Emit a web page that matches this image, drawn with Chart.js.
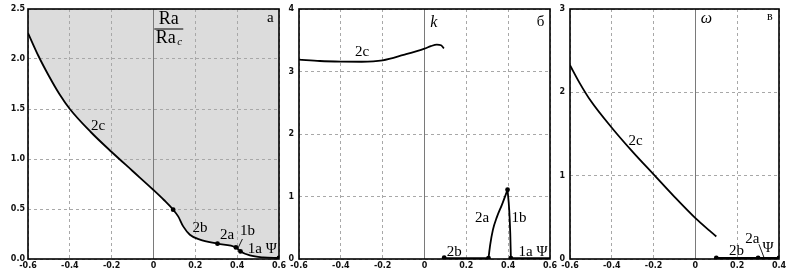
<!DOCTYPE html>
<html><head><meta charset="utf-8">
<script src="https://cdn.jsdelivr.net/npm/chart.js@4.4.1/dist/chart.umd.min.js"></script>
<style>
html,body{margin:0;padding:0;background:#fff;}
#wrap{position:relative;width:789px;height:277px;overflow:hidden;}
canvas{position:absolute;top:0;}
</style></head>
<body><div id="wrap">
<canvas id="c1" width="288" height="277" style="left:0px"></canvas>
<canvas id="c2" width="272" height="277" style="left:286px"></canvas>
<canvas id="c3" width="236" height="277" style="left:553px"></canvas>
</div>
<script>
// ---------- Panel a: Ra/Ra_c vs Psi ----------
const raTicksX = [-0.6, -0.4, -0.2, 0, 0.2, 0.4, 0.6];
const raTickLabelsX = ['-0.6', '-0.4', '-0.2', '0', '0.2', '0.4', '0.6'];
const raTicksY = [0, 0.5, 1, 1.5, 2, 2.5];
const raTickLabelsY = ['0.0', '0.5', '1.0', '1.5', '2.0', '2.5'];
const ra2cX = [-0.6, -0.55, -0.5, -0.45, -0.4, -0.3, -0.2, -0.1, 0, 0.05, 0.094];
const ra2cY = [2.26, 2.03, 1.83, 1.65, 1.50, 1.27, 1.07, 0.88, 0.69, 0.59, 0.493];
const ra2bX = [0.118, 0.142, 0.174, 0.222, 0.306, 0.394, 0.416, 0.461, 0.524, 0.6];
const ra2bY = [0.426, 0.326, 0.243, 0.193, 0.153, 0.116, 0.076, 0.036, 0.016, 0.01];
const raDotsX = [0.094, 0.306, 0.394, 0.416, 0.6];
const raDotsY = [0.493, 0.153, 0.116, 0.076, 0.01];

// ---------- Panel b: k vs Psi ----------
const kTicksX = [-0.6, -0.4, -0.2, 0, 0.2, 0.4, 0.6];
const kTickLabelsX = ['-0.6', '-0.4', '-0.2', '0', '0.2', '0.4', '0.6'];
const kTicksY = [0, 1, 2, 3, 4];
const kTickLabelsY = ['0', '1', '2', '3', '4'];
const k2cX = [-0.6, -0.5, -0.4, -0.3, -0.2, -0.1, 0, 0.03, 0.059, 0.079, 0.093];
const k2cY = [3.19, 3.168, 3.158, 3.156, 3.178, 3.265, 3.365, 3.405, 3.43, 3.42, 3.37];
const k2bX = [0.094, 0.306];
const k2bY = [0.015, 0.015];
const k2aX = [0.306, 0.314, 0.327, 0.346, 0.37, 0.397];
const k2aY = [0.015, 0.225, 0.466, 0.67, 0.867, 1.108];
const k1bX = [0.397, 0.405, 0.41, 0.413];
const k1bY = [1.108, 0.787, 0.41, 0.012];
const k1aX = [0.413, 0.6];
const k1aY = [0.012, 0.012];
const kDotsX = [0.094, 0.306, 0.397, 0.413];
const kDotsY = [0.02, 0.015, 1.108, 0.012];

// ---------- Panel v: omega vs Psi ----------
const wTicksX = [-0.6, -0.4, -0.2, 0, 0.2, 0.4];
const wTickLabelsX = ['-0.6', '-0.4', '-0.2', '0', '0.2', '0.4'];
const wTicksY = [0, 1, 2, 3];
const wTickLabelsY = ['0', '1', '2', '3'];
const w2cX = [-0.6, -0.555, -0.5, -0.4, -0.3, -0.2, -0.1, 0, 0.069, 0.1];
const w2cY = [2.325, 2.117, 1.895, 1.575, 1.285, 1.015, 0.745, 0.49, 0.337, 0.27];
const w2bX = [0.1, 0.4];
const w2bY = [0.012, 0.012];
const wDotsX = [0.1, 0.3, 0.4];
const wDotsY = [0.012, 0.012, 0.012];

// ---------- annotation texts (label, x, y in data units) ----------
const raLabels = [['2c', -0.265, 1.33], ['2b', 0.222, 0.31], ['2a', 0.352, 0.236], ['1b', 0.449, 0.28], ['1a Ψ', 0.52, 0.10]];
const kLabels = [['2c', -0.298, 3.314], ['2a', 0.275, 0.653], ['1b', 0.452, 0.653], ['2b', 0.142, 0.118], ['1a Ψ', 0.519, 0.112]];
const wLabels = [['2c', -0.286, 1.413], ['2b', 0.197, 0.10], ['2a', 0.272, 0.241], ['Ψ', 0.348, 0.129]];

const pts = (xs, ys) => xs.map((x, i) => ({x: x, y: ys[i]}));
const SERIF = '"Liberation Serif", "Times New Roman", serif';
const TICKFONT = {family: '"DejaVu Sans", sans-serif', size: 8, weight: 'bold'};

function curve(xs, ys, extra) {
  return Object.assign({
    data: pts(xs, ys), borderColor: '#000', borderWidth: 1.8, pointRadius: 0,
    cubicInterpolationMode: 'monotone', fill: false
  }, extra || {});
}
function dots(xs, ys) {
  return {data: pts(xs, ys), showLine: false, pointRadius: 2.4, pointBackgroundColor: '#000',
          pointBorderWidth: 0, borderColor: '#000', fill: false};
}

const decor = {
  id: 'decor',
  afterDraw(chart, args, opts) {
    const ctx = chart.ctx, a = chart.chartArea, sx = chart.scales.x, sy = chart.scales.y;
    const X = v => sx.getPixelForValue(v), Y = v => sy.getPixelForValue(v);
    ctx.save();
    ctx.strokeStyle = '#000'; ctx.lineWidth = 1.6; ctx.setLineDash([]);
    ctx.strokeRect(a.left, a.top, a.right - a.left, a.bottom - a.top);
    ctx.fillStyle = '#000'; ctx.textAlign = 'center'; ctx.textBaseline = 'middle';
    ctx.font = '15px ' + SERIF;
    (opts.labels || []).forEach(l => ctx.fillText(l[0], X(l[1]), Y(l[2])));
    (opts.extra || []).forEach(e => {
      ctx.font = e.font;
      ctx.fillText(e.t, X(e.x), Y(e.y));
    });
    (opts.lines || []).forEach(l => {
      ctx.lineWidth = 0.9; ctx.beginPath();
      ctx.moveTo(X(l[0]), Y(l[1])); ctx.lineTo(X(l[2]), Y(l[3])); ctx.stroke();
    });
    if (opts.fraction) {
      const f = opts.fraction, cx = X(f.x);
      ctx.font = '18px ' + SERIF;
      ctx.fillText('Ra', cx, Y(f.yNum));
      ctx.lineWidth = 1; ctx.beginPath();
      ctx.moveTo(cx - 14.5, Y(f.yBar)); ctx.lineTo(cx + 14.5, Y(f.yBar)); ctx.stroke();
      ctx.fillText('Ra', cx - 3, Y(f.yDen));
      ctx.font = 'italic 11px ' + SERIF;
      ctx.fillText('c', cx + 11, Y(f.yDen) + 4);
    }
    ctx.restore();
  }
};

function scaleOpts(ticks, labels, min, max, isX, fitSize, pad) {
  return {
    type: 'linear', min: min, max: max,
    afterBuildTicks: s => { s.ticks = ticks.map(v => ({value: v})); },
    afterFit: s => {
      if (isX) { s.height = fitSize; s.paddingLeft = 0; s.paddingRight = 0; }
      else { s.width = fitSize; s.paddingTop = 0; s.paddingBottom = 0; }
    },
    grid: {
      drawTicks: false, lineWidth: 1,
      color: c => (c.tick && c.tick.value === 0 && isX) ? '#7a7a7a' : '#a8a8a8'
    },
    border: {display: false, dash: c => (c.tick && c.tick.value === 0 && isX) ? [] : [3, 3]},
    ticks: {
      font: TICKFONT, color: '#111', padding: pad, autoSkip: false, maxRotation: 0,
      callback: (v, i) => labels[i]
    }
  };
}

function make(id, datasets, sx, sy, padRight, plug) {
  return new Chart(document.getElementById(id), {
    type: 'line',
    data: {datasets: datasets},
    options: {
      responsive: false, animation: false, devicePixelRatio: 1,
      layout: {padding: {left: 0, right: padRight, top: 9, bottom: 0}},
      plugins: {legend: {display: false}, tooltip: {enabled: false},
                filler: {drawTime: 'beforeDraw'}, decor: plug},
      scales: {x: sx, y: sy}
    },
    plugins: [decor]
  });
}

// Panel a (single curve 2c -> 2b -> 2a -> 1b -> 1a, region above it shaded)
make('c1', [
  curve(ra2cX.concat(ra2bX), ra2cY.concat(ra2bY), {fill: 'end', backgroundColor: '#dcdcdc'}),
  dots(raDotsX, raDotsY)
],
  scaleOpts(raTicksX, raTickLabelsX, -0.6, 0.6, true, 18, 2),
  scaleOpts(raTicksY, raTickLabelsY, 0, 2.5, false, 28, 3),
  9,
  {labels: raLabels,
   extra: [{t: 'а', x: 0.558, y: 2.41, font: '15px ' + SERIF}],
   lines: [[0.402, 0.10, 0.425, 0.20]],
   fraction: {x: 0.073, yNum: 2.393, yBar: 2.30, yDen: 2.208}});

// Panel b
make('c2', [
  curve(k2cX, k2cY),
  curve(k2bX, k2bY, {cubicInterpolationMode: 'default', tension: 0}),
  curve(k2aX, k2aY),
  curve(k1bX, k1bY),
  curve(k1aX, k1aY, {cubicInterpolationMode: 'default', tension: 0}),
  dots(kDotsX, kDotsY)
],
  scaleOpts(kTicksX, kTickLabelsX, -0.6, 0.6, true, 18, 2),
  scaleOpts(kTicksY, kTickLabelsY, 0, 4, false, 13, 5),
  8,
  {labels: kLabels,
   extra: [{t: 'k', x: 0.045, y: 3.786, font: 'italic 16px ' + SERIF},
           {t: 'б', x: 0.555, y: 3.786, font: '15px ' + SERIF}]});

// Panel v
make('c3', [
  curve(w2cX, w2cY),
  curve(w2bX, w2bY, {cubicInterpolationMode: 'default', tension: 0}),
  dots(wDotsX, wDotsY)
],
  scaleOpts(wTicksX, wTickLabelsX, -0.6, 0.4, true, 18, 2),
  scaleOpts(wTicksY, wTickLabelsY, 0, 3, false, 17, 5),
  10,
  {labels: wLabels,
   extra: [{t: 'ω', x: 0.053, y: 2.88, font: 'italic 16px ' + SERIF},
           {t: 'в', x: 0.356, y: 2.90, font: '12px ' + SERIF}],
   lines: [[0.304, 0.177, 0.328, 0.02]]});
</script>
</body></html>
